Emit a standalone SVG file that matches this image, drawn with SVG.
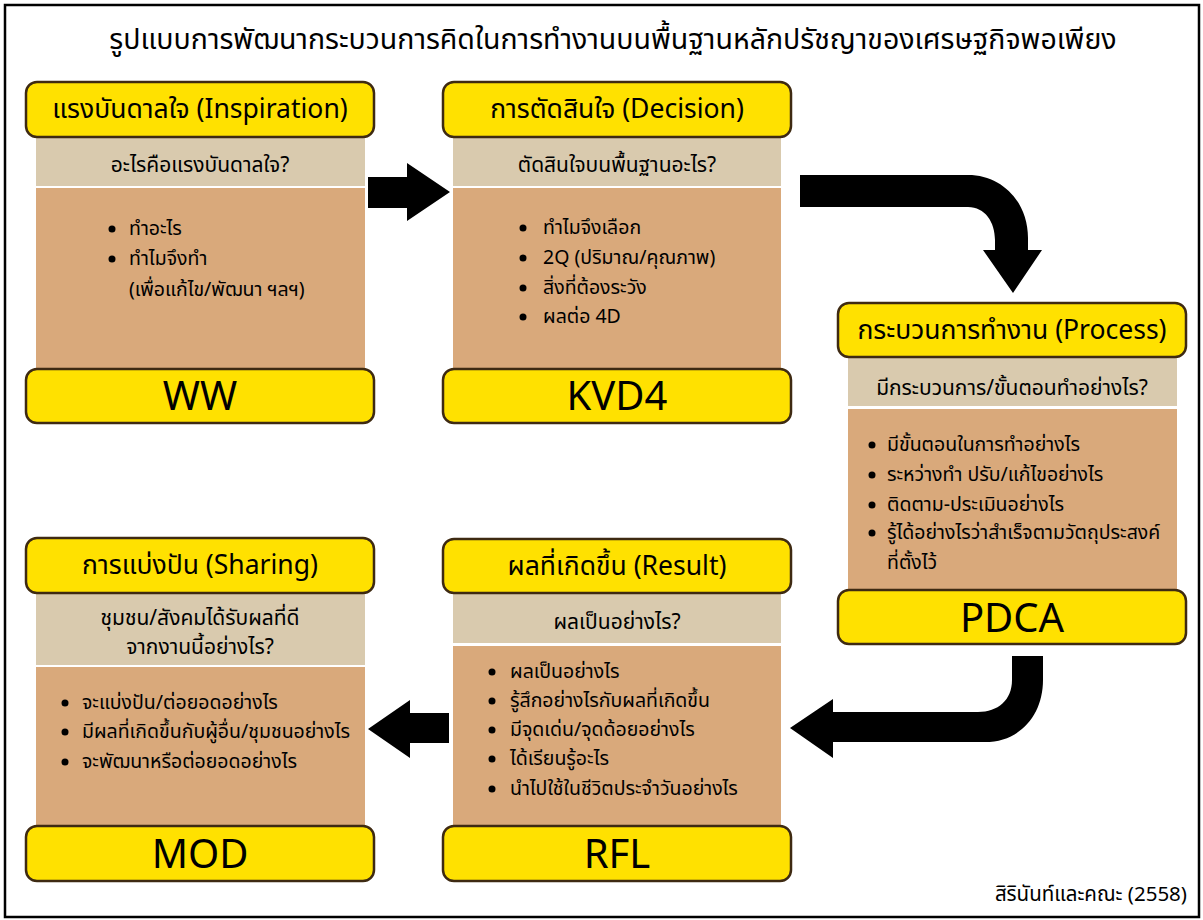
<svg xmlns="http://www.w3.org/2000/svg" width="1203" height="920" viewBox="0 0 1203 920">
<style>
text{font-family:"Noto Sans Thai","Leelawadee UI",Tahoma,"Noto Sans","DejaVu Sans",sans-serif;fill:#000}
.title{font-size:28.5px;text-anchor:middle}
.hd{fill:#FFE100;stroke:#3E2A12;stroke-width:2.5}
.ht{font-size:26.5px;text-anchor:middle}
.tan{fill:#D9CAAE}
.br{fill:#D9A97B}
.qt{font-size:21px;text-anchor:middle}
.bt{font-size:19.5px}
.lb{font-size:40px;text-anchor:middle;font-family:"Noto Sans","Open Sans","Liberation Sans",sans-serif}
.foot{font-size:20.5px;text-anchor:end}
.arr{fill:#000}
</style>
<rect x="0" y="0" width="1203" height="920" fill="#fff"/>
<rect x="5" y="5" width="1194" height="912" fill="none" stroke="#000" stroke-width="2.5"/>
<text class="title" x="613" y="49">รูปแบบการพัฒนากระบวนการคิดในการทำงานบนพื้นฐานหลักปรัชญาของเศรษฐกิจพอเพียง</text>

<g id="connectors">
<path class="arr" d="M368,177 H407 V163 L450,192 L407,221 V208 H368 Z"/>
<path class="arr" d="M800,175 H968 C1003,175 1028,203 1028,238 V250 H1042 L1013,293 L983,250 H995 V240 C995,222 985,207 968,207 H800 Z"/>
<path class="arr" d="M1012,656 H1043 V680 C1043,715 1020,742 985,742 H833 V758 L790,728 L833,699 V712 H978 C998,712 1012,700 1012,680 Z"/>
<path class="arr" d="M449,713 H410 V700 L368,729 L410,758 V743 H449 Z"/>
</g>

<g id="node-inspiration">
<rect class="tan" x="36" y="137" width="329" height="49"/>
<rect class="br" x="36" y="188" width="329" height="181"/>
<rect class="hd" x="26" y="82" width="348" height="55" rx="11"/>
<text class="ht" x="200" y="118">แรงบันดาลใจ (Inspiration)</text>
<text class="qt" x="200" y="172">อะไรคือแรงบันดาลใจ?</text>
<circle cx="112" cy="229" r="3.5"/><circle cx="112" cy="259" r="3.5"/>
<text class="bt" x="129" y="235">ทำอะไร</text>
<text class="bt" x="129" y="265">ทำไมจึงทำ</text>
<text class="bt" x="129" y="296">(เพื่อแก้ไข/พัฒนา ฯลฯ)</text>
<rect class="hd" x="26" y="369" width="348" height="54" rx="11"/>
<text class="lb" x="200" y="410">WW</text>
</g>

<g id="node-decision">
<rect class="tan" x="453" y="137" width="328" height="49"/>
<rect class="br" x="453" y="188" width="328" height="181"/>
<rect class="hd" x="443" y="82" width="348" height="55" rx="11"/>
<text class="ht" x="617" y="118">การตัดสินใจ (Decision)</text>
<text class="qt" x="617" y="172">ตัดสินใจบนพื้นฐานอะไร?</text>
<circle cx="523" cy="228" r="3.5"/><circle cx="523" cy="258" r="3.5"/><circle cx="523" cy="288" r="3.5"/><circle cx="523" cy="317" r="3.5"/>
<text class="bt" x="543" y="234">ทำไมจึงเลือก</text>
<text class="bt" x="543" y="264">2Q (ปริมาณ/คุณภาพ)</text>
<text class="bt" x="543" y="294">สิ่งที่ต้องระวัง</text>
<text class="bt" x="543" y="323">ผลต่อ 4D</text>
<rect class="hd" x="443" y="369" width="348" height="54" rx="11"/>
<text class="lb" x="617" y="410">KVD4</text>
</g>

<g id="node-process">
<rect class="tan" x="848" y="357" width="329" height="49"/>
<rect class="br" x="848" y="409" width="329" height="181"/>
<rect class="hd" x="838" y="303" width="348" height="54" rx="11"/>
<text class="ht" x="1012" y="339">กระบวนการทำงาน (Process)</text>
<text class="qt" x="1012" y="395">มีกระบวนการ/ขั้นตอนทำอย่างไร?</text>
<circle cx="872" cy="445" r="3.5"/><circle cx="872" cy="475" r="3.5"/><circle cx="872" cy="505" r="3.5"/><circle cx="872" cy="533" r="3.5"/>
<text class="bt" x="887" y="451">มีขั้นตอนในการทำอย่างไร</text>
<text class="bt" x="887" y="481">ระหว่างทำ ปรับ/แก้ไขอย่างไร</text>
<text class="bt" x="887" y="511">ติดตาม-ประเมินอย่างไร</text>
<text class="bt" x="887" y="539">รู้ได้อย่างไรว่าสำเร็จตามวัตถุประสงค์</text>
<text class="bt" x="887" y="569">ที่ตั้งไว้</text>
<rect class="hd" x="838" y="590" width="348" height="54" rx="11"/>
<text class="lb" x="1012" y="632">PDCA</text>
</g>

<g id="node-result">
<rect class="tan" x="453" y="593" width="328" height="50"/>
<rect class="br" x="453" y="646" width="328" height="180"/>
<rect class="hd" x="443" y="539" width="348" height="54" rx="11"/>
<text class="ht" x="617" y="575">ผลที่เกิดขึ้น (Result)</text>
<text class="qt" x="617" y="629">ผลเป็นอย่างไร?</text>
<circle cx="492" cy="672" r="3.5"/><circle cx="492" cy="701" r="3.5"/><circle cx="492" cy="730" r="3.5"/><circle cx="492" cy="759" r="3.5"/><circle cx="492" cy="789" r="3.5"/>
<text class="bt" x="510" y="678">ผลเป็นอย่างไร</text>
<text class="bt" x="510" y="707">รู้สึกอย่างไรกับผลที่เกิดขึ้น</text>
<text class="bt" x="510" y="736">มีจุดเด่น/จุดด้อยอย่างไร</text>
<text class="bt" x="510" y="765">ได้เรียนรู้อะไร</text>
<text class="bt" x="510" y="795">นำไปใช้ในชีวิตประจำวันอย่างไร</text>
<rect class="hd" x="443" y="826" width="348" height="55" rx="11"/>
<text class="lb" x="617" y="868">RFL</text>
</g>

<g id="node-sharing">
<rect class="tan" x="36" y="593" width="329" height="72"/>
<rect class="br" x="36" y="667" width="329" height="159"/>
<rect class="hd" x="26" y="538" width="348" height="55" rx="11"/>
<text class="ht" x="200" y="574">การแบ่งปัน (Sharing)</text>
<text class="qt" x="200" y="625">ชุมชน/สังคมได้รับผลที่ดี</text>
<text class="qt" x="200" y="654">จากงานนี้อย่างไร?</text>
<circle cx="65" cy="703" r="3.5"/><circle cx="65" cy="732" r="3.5"/><circle cx="65" cy="762" r="3.5"/>
<text class="bt" x="82" y="709">จะแบ่งปัน/ต่อยอดอย่างไร</text>
<text class="bt" x="82" y="738">มีผลที่เกิดขึ้นกับผู้อื่น/ชุมชนอย่างไร</text>
<text class="bt" x="82" y="768">จะพัฒนาหรือต่อยอดอย่างไร</text>
<rect class="hd" x="26" y="826" width="348" height="55" rx="11"/>
<text class="lb" x="200" y="868">MOD</text>
</g>

<text class="foot" x="1187" y="901">สิรินันท์และคณะ (2558)</text>
</svg>
